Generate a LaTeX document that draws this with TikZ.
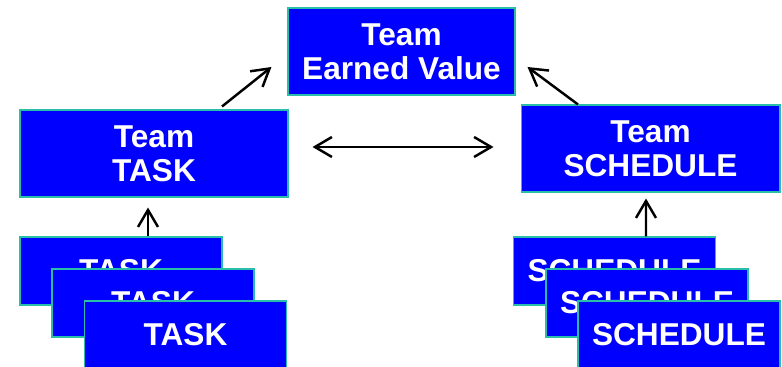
\documentclass[tikz,border=0pt]{standalone}
\usepackage{fontspec}
\setmainfont{Liberation Sans}
\usetikzlibrary{positioning,arrows.meta}
\definecolor{boxblue}{RGB}{0,0,255}
\definecolor{boxedge}{RGB}{40,190,170}

\begin{document}
\begin{tikzpicture}[x=0.02cm, y=-0.02cm,
	box/.style={draw=boxedge, line width=0.6pt, fill=boxblue, text=white,
		font=\fontsize{18}{19.5}\selectfont\bfseries, align=center, inner sep=0pt},
	bigbox/.style={box, minimum height=1.74cm},
	smallbox/.style={box, minimum width=4.04cm, minimum height=1.36cm},
	link/.style={line width=1.4pt, -{Straight Barb[length=0.34cm,width=0.4cm]}}]
	\useasboundingbox (0,0) rectangle (782,367);
	
	% team level
	\node[bigbox, minimum width=4.54cm] (ev) at (401.5,51.5) {Team\\Earned Value};
	\node[bigbox, minimum width=5.36cm] (tt) at (154,153.5) {Team\\TASK};
	\node[bigbox, minimum width=5.18cm] (ts) at (650.5,148.5) {Team\\SCHEDULE};
	
	% stacked tasks
	\node[smallbox] (task1) at (121,271) {TASK};
	\node[smallbox] (task2) at (153,303) {TASK};
	\node[smallbox] (task3) at (185.5,335) {TASK};
	
	% stacked schedules
	\node[smallbox] (sched1) at (614.5,271) {SCHEDULE};
	\node[smallbox] (sched2) at (647,303) {SCHEDULE};
	\node[smallbox] (sched3) at (679,335) {SCHEDULE};
	
	\draw[link] ([shift={(68,-3)}]tt.north) -- ([shift={(-16,15.5)}]ev.west);
	\draw[link] ([shift={(-72.5,0)}]ts.north) -- ([shift={(12,15.5)}]ev.east);
	\draw[link, {Straight Barb[length=0.34cm,width=0.4cm]}-{Straight Barb[length=0.34cm,width=0.4cm]}]
		([shift={(24,-6.5)}]tt.east) -- ([shift={(-27,-1.5)}]ts.west);
	\draw[link] ([shift={(27,0)}]task1.north) -- ([shift={(-6,10)}]tt.south);
	\draw[link] ([shift={(31.5,0)}]sched1.north) -- ([shift={(-4.5,6)}]ts.south);
\end{tikzpicture}
\end{document}
